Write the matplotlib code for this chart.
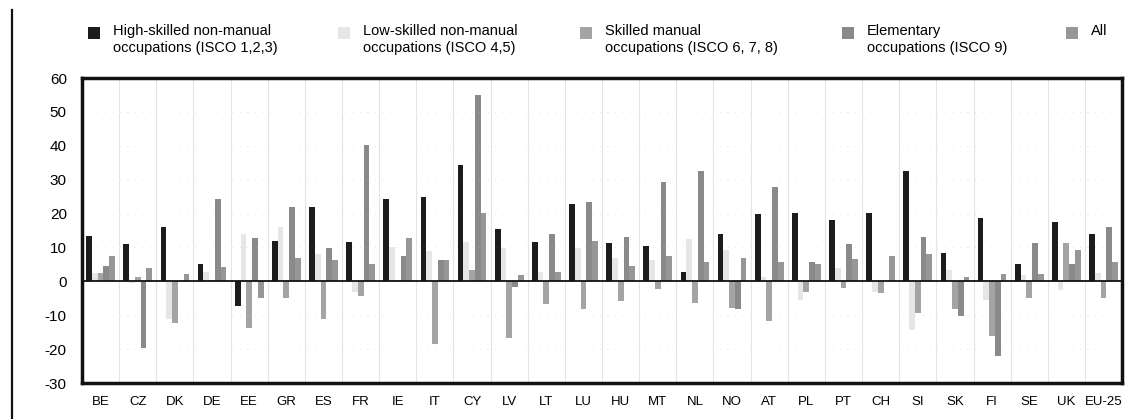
import numpy as np
import matplotlib
matplotlib.use("Agg")
import matplotlib.pyplot as plt
from matplotlib.patches import Rectangle
from matplotlib.lines import Line2D

plt.rcParams['font.family'] = ['Liberation Sans', 'DejaVu Sans']

# data
countries = ["BE", "CZ", "DK", "DE", "EE", "GR", "ES", "FR", "IE", "IT", "CY", "LV", "LT", "LU",
             "HU", "MT", "NL", "NO", "AT", "PL", "PT", "CH", "SI", "SK", "FI", "SE", "UK", "EU-25"]
high_skilled = [13.3, 10.9, 16.1, 5.1, -7.2, 12.0, 22.0, 11.5, 24.4, 24.9, 34.2, 15.3, 11.5, 22.7,
                11.3, 10.3, 2.8, 14.1, 19.8, 20.3, 18.1, 20.3, 32.7, 8.5, 18.8, 5.1, 17.5, 14.1]
low_skilled = [2.5, -0.5, -11.0, 2.9, 13.9, 15.9, 8.0, -3.2, 10.2, 9.0, 11.5, 9.7, 2.9, 9.7,
               6.9, 6.3, 12.5, 9.2, 1.2, -5.5, 3.9, -3.2, -14.5, 3.3, -5.5, 1.9, -2.7, 2.5]
skilled_manual = [2.5, 1.3, -12.4, 0.3, -13.8, -5.0, -11.1, -4.4, 0.3, -18.4, 3.3, -16.8, -6.7, -8.3,
                  -5.7, -2.3, -6.5, -7.8, -11.8, -3.2, -2.0, -3.5, -9.4, -8.1, -16.0, -5.0, 11.3, -5.0]
elementary = [4.6, -19.6, 0.0, 24.4, 12.9, 21.8, 9.7, 40.2, 7.4, 6.4, 54.9, -1.6, 14.1, 23.4,
              13.1, 29.3, 32.7, -8.2, 27.8, 5.8, 11.0, 0.0, 13.1, -10.3, -22.1, 11.3, 5.1, 15.9]
all_occ = [7.4, 4.0, 2.2, 4.3, -5.0, 6.8, 6.3, 5.1, 12.9, 6.4, 20.3, 2.0, 2.9, 12.0,
           4.6, 7.4, 5.8, 6.8, 5.8, 5.1, 6.6, 7.4, 8.2, 1.2, 2.2, 2.2, 9.2, 5.8]

series_labels = ["High-skilled non-manual\noccupations (ISCO 1,2,3)",
                 "Low-skilled non-manual\noccupations (ISCO 4,5)",
                 "Skilled manual\noccupations (ISCO 6, 7, 8)",
                 "Elementary\noccupations (ISCO 9)",
                 "All"]
series_colors = ["#1c1c1c", "#e6e6e6", "#a4a4a4", "#8a8a8a", "#979797"]
y_ticks = [-30, -20, -10, 0, 10, 20, 30, 40, 50, 60]

if __name__ == "__main__":
    fig = plt.figure(figsize=(11.3, 4.19), dpi=100)
    ax = fig.add_axes([0.0726, 0.0859, 0.9204, 0.7279])

    series = [high_skilled, low_skilled, skilled_manual, elementary, all_occ]
    n = len(countries)
    x = np.arange(n)
    bar_w = 0.155
    for i, (vals, col) in enumerate(zip(series, series_colors)):
        ax.bar(x + (i - 2) * bar_w, vals, width=bar_w, color=col, edgecolor='none', zorder=3)

    ax.set_xlim(-0.5, n - 0.5)
    ax.set_ylim(-30, 60)
    ax.set_yticks(y_ticks)
    ax.set_yticklabels([str(t) for t in y_ticks], fontsize=11)
    ax.set_xticks(x)
    ax.set_xticklabels(countries, fontsize=9.5)
    ax.tick_params(axis='both', length=0)
    ax.tick_params(axis='y', pad=11)
    ax.tick_params(axis='x', pad=9)

    # group separators and light grid
    for b in np.arange(0.5, n - 0.5, 1):
        ax.axvline(b, color='#e4e4e4', lw=0.8, zorder=1)
    for t in y_ticks[1:-1]:
        if t != 0:
            ax.axhline(t, color='#d8d8d8', lw=0.6, ls=(0, (1, 8)), zorder=1)
    ax.axhline(0, color='#111111', lw=1.3, zorder=4)

    for sp in ax.spines.values():
        sp.set_linewidth(2.5)
        sp.set_color('#111111')

    # legend drawn by hand to follow the irregular spacing
    legend_x = [88, 338, 580, 842, 1066]
    for lx, lab, col in zip(legend_x, series_labels, series_colors):
        fig.patches.append(Rectangle((lx / 1130, 1 - 39 / 419), 12 / 1130, 12 / 419,
                                     transform=fig.transFigure, facecolor=col, edgecolor='none'))
        fig.text((lx + 25) / 1130, 1 - 24 / 419, lab, fontsize=10.5, va='top', ha='left',
                 linespacing=1.25)

    fig.lines.append(Line2D([12 / 1130, 12 / 1130], [0, 1 - 10 / 419], transform=fig.transFigure,
                            color='#111111', lw=1.6))

    fig.savefig("out.png", dpi=100)
